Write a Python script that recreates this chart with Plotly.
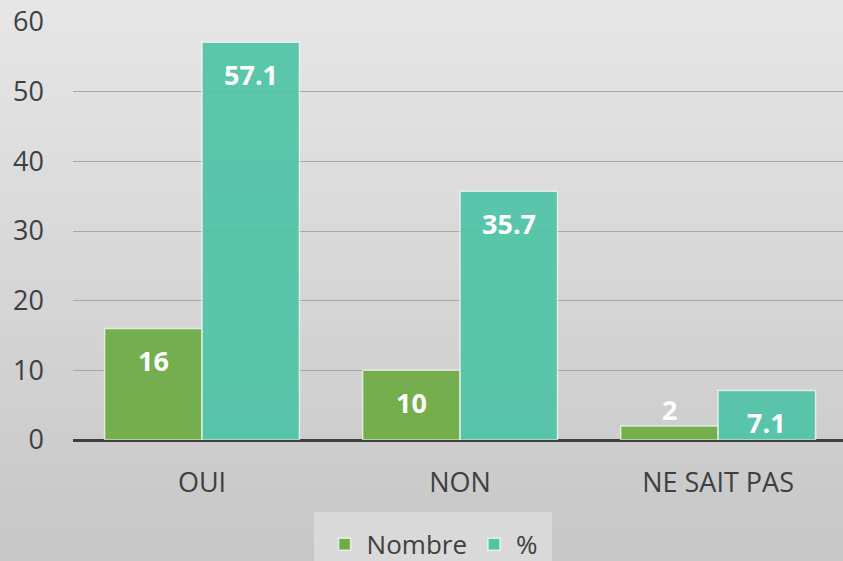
import plotly.graph_objects as go

categories = ["OUI", "NON", "NE SAIT PAS"]
nombre = [16, 10, 2]
pct = [57.1, 35.7, 7.1]
series_names = ["Nombre", "%"]
y_ticks = [0, 10, 20, 30, 40, 50, 60]

GREEN = "#70ad47"
TEAL = "#4fc4a6"
FONT = "Open Sans"

fig = go.Figure()
fig.add_trace(go.Bar(name=series_names[0], x=categories, y=nombre,
                     marker=dict(color=GREEN, opacity=0.95,
                                 line=dict(color="rgba(255,255,255,0.7)", width=1.5))))
fig.add_trace(go.Bar(name=series_names[1], x=categories, y=pct,
                     marker=dict(color=TEAL, opacity=0.92,
                                 line=dict(color="rgba(255,255,255,0.7)", width=1.5))))

# data labels anchored at data coordinates
half_bar_px = 48.5
for vals, sign in ((nombre, -1), (pct, 1)):
    for c, v in zip(categories, vals):
        inside = v >= 5
        fig.add_annotation(x=c, y=v, xref="x", yref="y",
                           text=f"<b>{v:g}</b>", showarrow=False,
                           xshift=sign * half_bar_px,
                           yshift=-32 if inside else 17,
                           font=dict(family=FONT, size=27, color="white"))

# gradient background bands
n = 40
top = (230, 230, 230)
bot = (199, 199, 199)
y0p, y1p = -121 / 418, 1 + 22 / 418
for i in range(n):
    t = i / (n - 1)
    col = tuple(round(top[k] + (bot[k] - top[k]) * t) for k in range(3))
    ya = y1p - (y1p - y0p) * i / n
    yb = y1p - (y1p - y0p) * (i + 1) / n
    fig.add_shape(type="rect", xref="paper", yref="paper",
                  x0=-73 / 770, x1=1.01, y0=yb - 0.002, y1=ya + 0.002,
                  fillcolor="rgb(%d,%d,%d)" % col, line=dict(width=0),
                  layer="below")

fig.update_layout(
    width=843, height=561,
    margin=dict(l=73, r=0, t=22, b=121, autoexpand=False),
    paper_bgcolor="#c8c8c8",
    plot_bgcolor="rgba(0,0,0,0)",
    barmode="group", bargap=0.245, bargroupgap=0,
    font=dict(family=FONT, color="#404040"),
    xaxis=dict(range=[-0.5, 2.484], tickfont=dict(size=27, color="#404040"),
               showgrid=False, ticks="", showline=False, ticklabelstandoff=24),
    yaxis=dict(range=[0, 60], tickvals=y_ticks, tickfont=dict(size=27, color="#404040"),
               showgrid=True, gridcolor="#a8a8a8", gridwidth=1,
               zeroline=True, zerolinecolor="#404040", zerolinewidth=3,
               ticks="", ticklen=0, showline=False, ticklabelstandoff=28),
    legend=dict(orientation="h", x=0.467, xanchor="center", y=-0.172, yanchor="top",
                bgcolor="#d9d9d9", bordercolor="#d9d9d9", borderwidth=9,
                font=dict(size=26, color="#404040"),
                itemwidth=34, traceorder="normal"),
)

fig.write_html("out.html", config={"displayModeBar": False},
               post_script="document.body.style.margin='0';document.body.style.overflow='hidden';")
